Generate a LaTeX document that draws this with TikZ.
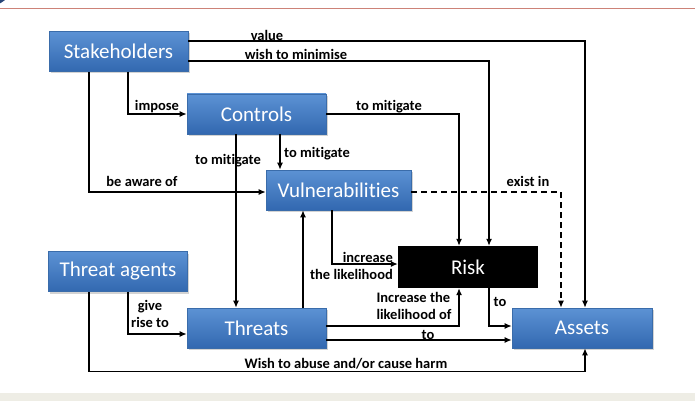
\documentclass[tikz,border=0pt]{standalone}
\usepackage{fontspec}
\setmainfont[Ligatures={NoCommon}]{Carlito}
\usetikzlibrary{arrows.meta,shadows,calc}
\definecolor{boxtop}{RGB}{92,146,212}
\definecolor{boxbot}{RGB}{50,104,176}
\definecolor{boxline}{RGB}{58,108,170}
\definecolor{redline}{RGB}{205,130,120}
\definecolor{band}{RGB}{238,237,229}
\definecolor{dotblue}{RGB}{40,70,120}
\tikzset{
  box/.style={rectangle, minimum width=139pt, minimum height=40pt, inner sep=0pt,
    top color=boxtop, bottom color=boxbot, draw=boxline, line width=0.6pt,
    text=white, font=\fontsize{21}{24}\selectfont,
    drop shadow={shadow xshift=1.5pt, shadow yshift=-2pt, opacity=0.35}},
  riskbox/.style={rectangle, minimum width=140pt, minimum height=42pt, inner sep=0pt,
    fill=black, text=white, font=\fontsize{21}{24}\selectfont},
  conn/.style={line width=1.2pt, draw=black, -{Latex[length=7pt,width=6pt]}},
  lbl/.style={font=\bfseries\fontsize{14.5}{17}\selectfont, inner sep=0pt, text=black}
}
\begin{document}
\begin{tikzpicture}[x=1pt,y=-1pt]
\useasboundingbox (0,0) rectangle (695,401);
\begin{scope}
\clip (0,0) rectangle (695,401);
\fill[dotblue] (-4,-8) circle (12);
\end{scope}
\draw[redline, line width=0.8pt] (0,8) -- (695,8);
\fill[band] (0,393) rectangle (695,401);

\node[box] (sh) at (118.5,51.5) {Stakeholders};
\node[box] (ctl) at (256.5,114) {Controls};
\node[box, minimum width=145pt] (vul) at (338.5,190) {Vulnerabilities};
\node[box] (ta) at (118,271.5) {Threat agents};
\node[box] (thr) at (256.5,328) {Threats};
\node[riskbox] (risk) at (468,267) {Risk};
\node[box, minimum width=140pt] (as) at (582,328) {Assets};

% Stakeholders
\draw[conn] ([yshift=10.5pt]sh.east) -| ([xshift=3pt]as.north);
\node[lbl] (l1) at (267,35) {value};
\draw[conn] ([yshift=-9.5pt]sh.east) -| ([xshift=21pt]risk.north);
\node[lbl] (l2) at (296,54) {wish to minimise};
\draw[conn] ([xshift=9.5pt]sh.south) |- (ctl.west);
\node[lbl] (l3) at (157,107) {impose};
\draw[conn] ([xshift=-29.5pt]sh.south) |- ([yshift=-2pt]vul.west);
\node[lbl] (l4) at (142,181) {be aware of};

% Controls
\draw[conn] (ctl.east) -| ([xshift=-9pt]risk.north);
\node[lbl] (l5) at (389,107) {to mitigate};
\draw[conn] ([xshift=23.5pt]ctl.south) -- ([xshift=23.5pt]ctl.south |- vul.north);
\node[lbl] (l6) at (317,154) {to mitigate};
\draw[conn] ([xshift=-20.5pt]ctl.south) -- ([xshift=-20.5pt]ctl.south |- thr.north);
\node[lbl] (l7) at (228,161) {to mitigate};

% Threats -> Vulnerabilities
\draw[conn] ([xshift=46.5pt]thr.north) -- ([xshift=46.5pt]thr.north |- vul.south);

% Vulnerabilities
\draw[conn] ([xshift=-6.5pt]vul.south) |- ([yshift=3pt]risk.west);
\node[lbl, align=right, anchor=east] (l8) at (393,266) {increase\\the likelihood};
\draw[conn, dash pattern=on 6pt off 4pt] ([yshift=-2pt]vul.east) -| ([xshift=-21pt]as.north);
\node[lbl] (l9) at (528,181) {exist in};

% Threats
\draw[conn] ([yshift=2pt]thr.east) -| ([xshift=-9pt]risk.south);
\node[lbl, align=left] (l10) at (414,306) {Increase the\\likelihood of};
\draw[conn] ([yshift=-12pt]thr.east) -- ([yshift=-12pt]thr.east -| as.west);
\node[lbl] (l11) at (428,335) {to};

% Risk -> Assets
\draw[conn] ([xshift=21pt]risk.south) |- ([yshift=2pt]as.west);
\node[lbl] (l12) at (500,302) {to};

% Threat agents
\draw[conn] ([xshift=10pt]ta.south) |- ([yshift=-6pt]thr.west);
\node[lbl, align=center] (l13) at (150,314) {give\\rise to};
\draw[conn] ([xshift=-29pt]ta.south) |- ([xshift=3pt,yshift=-23pt]as.south) -- ([xshift=3pt]as.south);
\node[lbl] (l14) at (346,364) {Wish to abuse and/or cause harm};
\end{tikzpicture}
\end{document}
